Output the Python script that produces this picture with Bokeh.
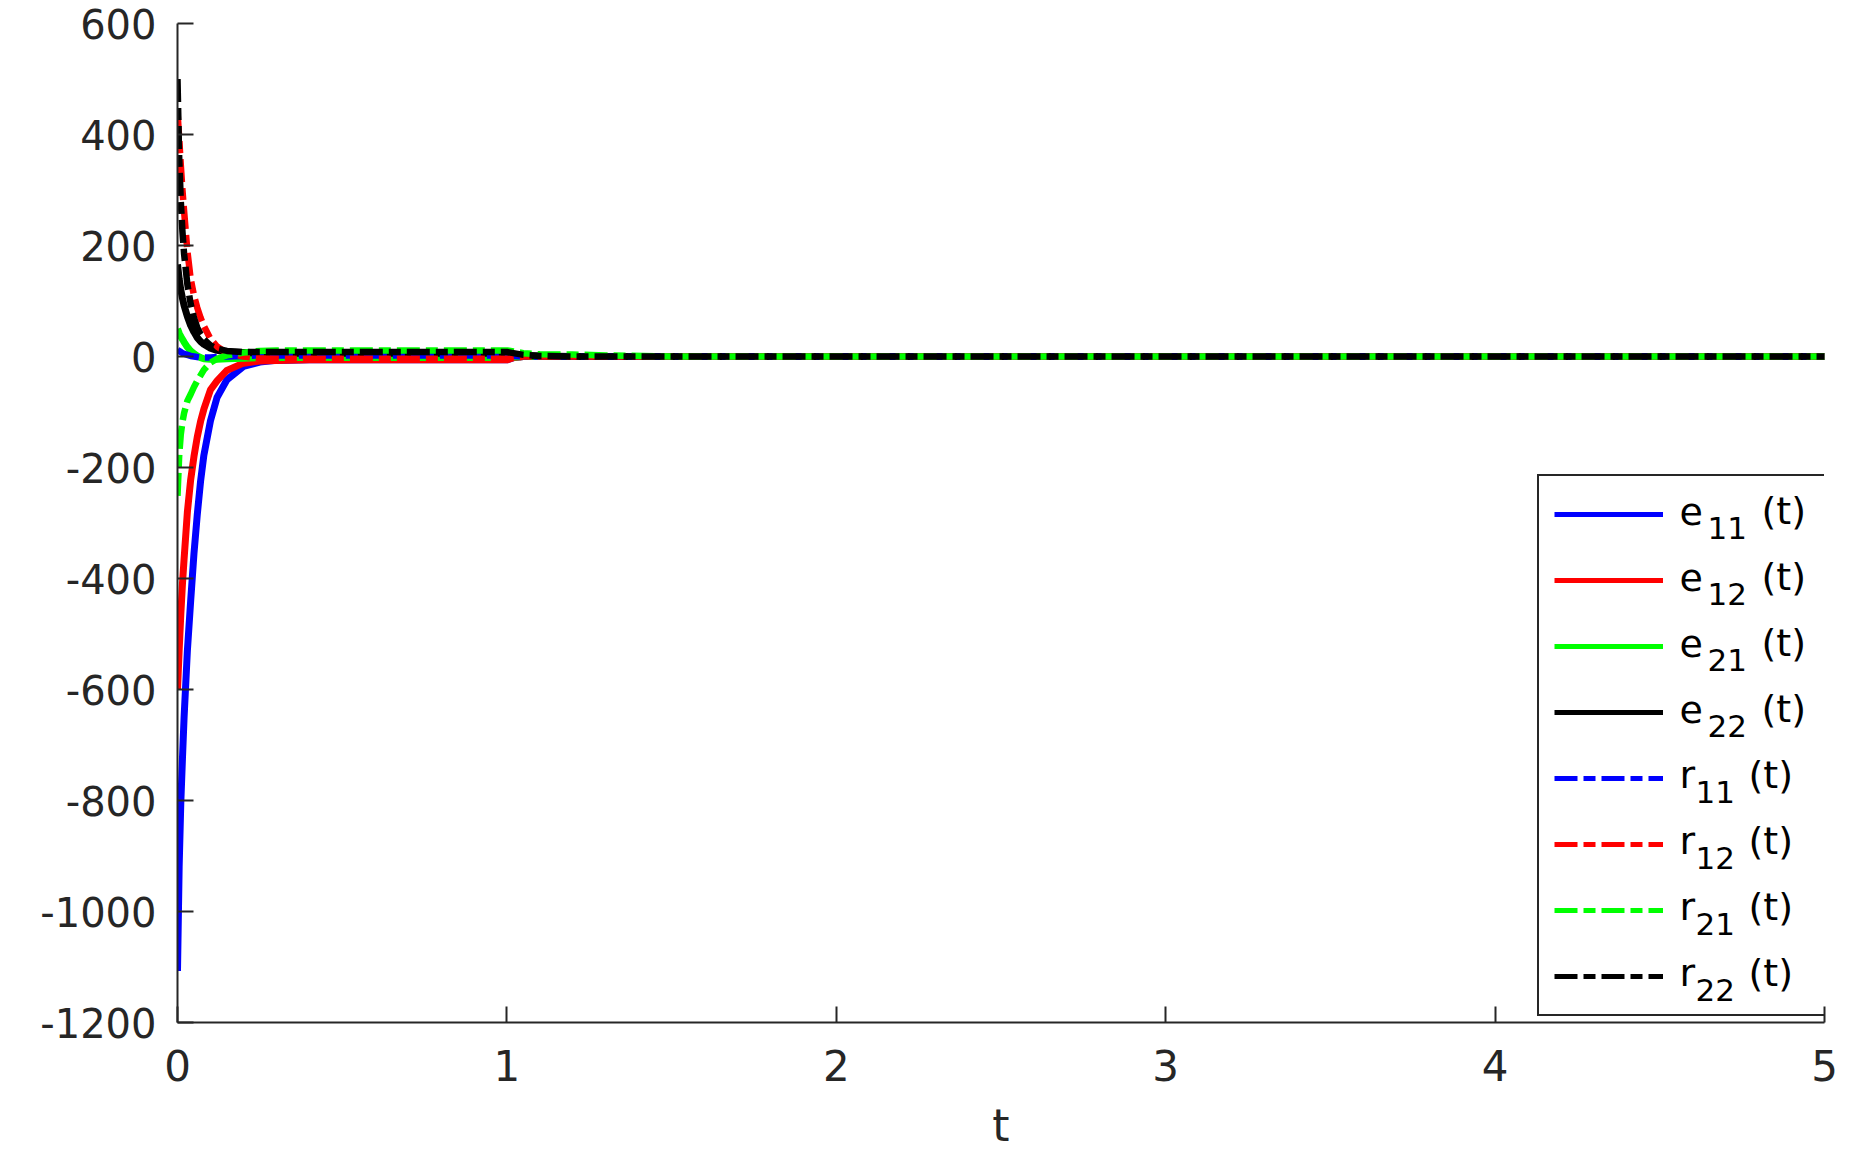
from bokeh.plotting import figure
from bokeh.models import Range1d, FixedTicker, Legend, LegendItem, Label
from bokeh.embed import file_html
from bokeh.resources import INLINE

# ---- data ----
t = [0, 0.005, 0.01, 0.015, 0.02, 0.03, 0.04, 0.05, 0.06, 0.07, 0.08, 0.10, 0.12, 0.15,
     0.20, 0.25, 0.30, 0.40, 0.50, 0.60, 0.70, 0.80, 0.90, 1.00, 1.02, 1.05, 1.10, 1.20,
     1.30, 1.50, 2.00, 3.00, 4.00, 5.00]

e11 = [-1107, -920, -805, -725, -650, -530, -440, -355, -285, -225, -178, -116, -74, -42,
       -18, -10, -7, -6, -6, -6, -6, -6, -6, -6, -2, 0, 0, 0, 0, 0, 0, 0, 0, 0]
e12 = [-600, -530, -465, -410, -365, -280, -222, -180, -145, -117, -95, -60, -44, -25,
       -12, -8, -7, -6, -6, -6, -6, -6, -6, -6, -2, 0, 0, 0, 0, 0, 0, 0, 0, 0]
e21 = [50, 42, 36, 31, 26, 17, 10, 5, 1, -2, -4, -5, -5, -4,
       -3, -2, -2, -2, -2, -2, -2, -2, -2, -2, -1, 0, 0, 0, 0, 0, 0, 0, 0, 0]
e22 = [166, 140, 120, 105, 92, 72, 56, 44, 34, 27, 22, 15, 11, 8,
       7, 6, 6, 6, 6, 6, 6, 6, 6, 6, 4, 2, 1, 0, 0, 0, 0, 0, 0, 0]
r11 = [12, 10, 8, 6, 5, 3, 1, 0, -1, -2, -2, -2, -1, 0,
       1, 2, 2, 2, 2, 2, 2, 2, 2, 2, 1, 0, 0, 0, 0, 0, 0, 0, 0, 0]
r12 = [440, 395, 345, 300, 262, 190, 140, 110, 88, 70, 55, 32, 18, 6,
       0, -3, -4, -4, -4, -4, -4, -4, -4, -4, -2, 0, 0, 0, 0, 0, 0, 0, 0, 0]
r21 = [-251, -180, -140, -118, -102, -80, -68, -55, -44, -34, -24, -11, -4, 2,
       7, 10, 11, 11, 11, 11, 11, 11, 11, 11, 9, 6, 4, 3.5, 2, 0, 0, 0, 0, 0]
r22 = [500, 360, 280, 225, 185, 130, 95, 70, 52, 40, 31, 20, 14, 10,
       8, 8, 8, 8, 8, 8, 8, 8, 8, 8, 6, 3, 1, 0, 0, 0, 0, 0, 0, 0]

letters = ["e", "e", "e", "e", "r", "r", "r", "r"]
subs = ["11", "12", "21", "22", "11", "12", "21", "22"]
values = [e11, e12, e21, e22, r11, r12, r21, r22]
colors = ["#0000FF", "#FF0000", "#00FF00", "#000000",
          "#0000FF", "#FF0000", "#00FF00", "#000000"]
dashes = ["solid"] * 4 + ["23 6 12 6"] * 4
widths = [7] * 4 + [6.5] * 4

x_ticks = [0, 1, 2, 3, 4, 5]
y_ticks = [-1200, -1000, -800, -600, -400, -200, 0, 200, 400, 600]
x_label = "t"

FONT = "DejaVu Sans"
AX = "#262626"

FW, FH = 1647, 999
p = figure(frame_width=FW, frame_height=FH, output_backend="svg",
           toolbar_location=None, x_range=Range1d(0, 5), y_range=Range1d(-1200, 600),
           min_border_left=177, min_border_top=23, min_border_right=14,
           min_border_bottom=0)
p.outline_line_color = None
p.xgrid.visible = False
p.ygrid.visible = False
p.background_fill_color = "white"
p.border_fill_color = "white"

for vals, col, dsh, w in zip(values, colors, dashes, widths):
    p.line(t, vals, line_color=col, line_width=w, line_dash=dsh,
           line_cap="butt", line_join="round")

items = []
for col, dsh in zip(colors, dashes):
    r = p.line([float("nan")], [float("nan")], line_color=col, line_width=5,
               line_dash=dsh, line_cap="butt")
    items.append(LegendItem(label=" ", renderers=[r]))

for ax in (p.xaxis[0], p.yaxis[0]):
    ax.axis_line_color = AX
    ax.axis_line_width = 2
    ax.major_tick_line_color = AX
    ax.major_tick_line_width = 2
    ax.major_tick_in = 16
    ax.major_tick_out = 0
    ax.minor_tick_line_color = None
    ax.major_label_text_font = FONT
    ax.major_label_text_color = AX

p.xaxis.ticker = FixedTicker(ticks=x_ticks)
p.yaxis.ticker = FixedTicker(ticks=y_ticks)
p.yaxis.major_label_overrides = {v: str(v) for v in y_ticks}
p.xaxis.major_label_text_font_size = "42px"
p.yaxis.major_label_text_font_size = "40px"
p.xaxis.major_label_standoff = 27
p.yaxis.major_label_standoff = 21
p.xaxis.axis_label = x_label
p.xaxis.axis_label_text_font = FONT
p.xaxis.axis_label_text_font_size = "44px"
p.xaxis.axis_label_text_font_style = "normal"
p.xaxis.axis_label_text_color = AX
p.xaxis.axis_label_standoff = 16

# legend frame and line samples
LEG_X, LEG_Y, PAD, GH, SP, GW, LS = 1360, 6, 15, 46, 20, 109, 10
legend = Legend(items=items, location=(LEG_X, LEG_Y), orientation="vertical",
                padding=PAD, spacing=SP, margin=0,
                glyph_width=GW, glyph_height=GH, label_height=GH,
                label_standoff=LS, label_width=137,
                label_text_font=FONT, label_text_font_size="38px",
                border_line_color=AX, border_line_width=2, border_line_alpha=1.0,
                background_fill_alpha=0.0)
p.add_layout(legend)

# legend texts with subscripts
n = len(letters)
leg_h = 2 * PAD + n * GH + (n - 1) * SP
text_x = LEG_X + 142
for k, (let, sub) in enumerate(zip(letters, subs)):
    cy = LEG_Y + leg_h - PAD - GH / 2 - k * (GH + SP)
    base = cy + 5.5
    sub_dx, par_dx = (28, 82) if let == "e" else (16, 69)
    p.add_layout(Label(x=text_x, y=base, x_units="screen", y_units="screen", text=let,
                       text_font=FONT, text_font_size="38px", text_color="black",
                       text_baseline="alphabetic"))
    p.add_layout(Label(x=text_x + sub_dx, y=base - 17, x_units="screen", y_units="screen",
                       text=sub, text_font=FONT, text_font_size="31px",
                       text_color="black", text_baseline="alphabetic"))
    p.add_layout(Label(x=text_x + par_dx, y=base, x_units="screen", y_units="screen",
                       text="(t)", text_font=FONT, text_font_size="38px",
                       text_color="black", text_baseline="alphabetic"))

open("out.html", "w").write(file_html(p, INLINE))
